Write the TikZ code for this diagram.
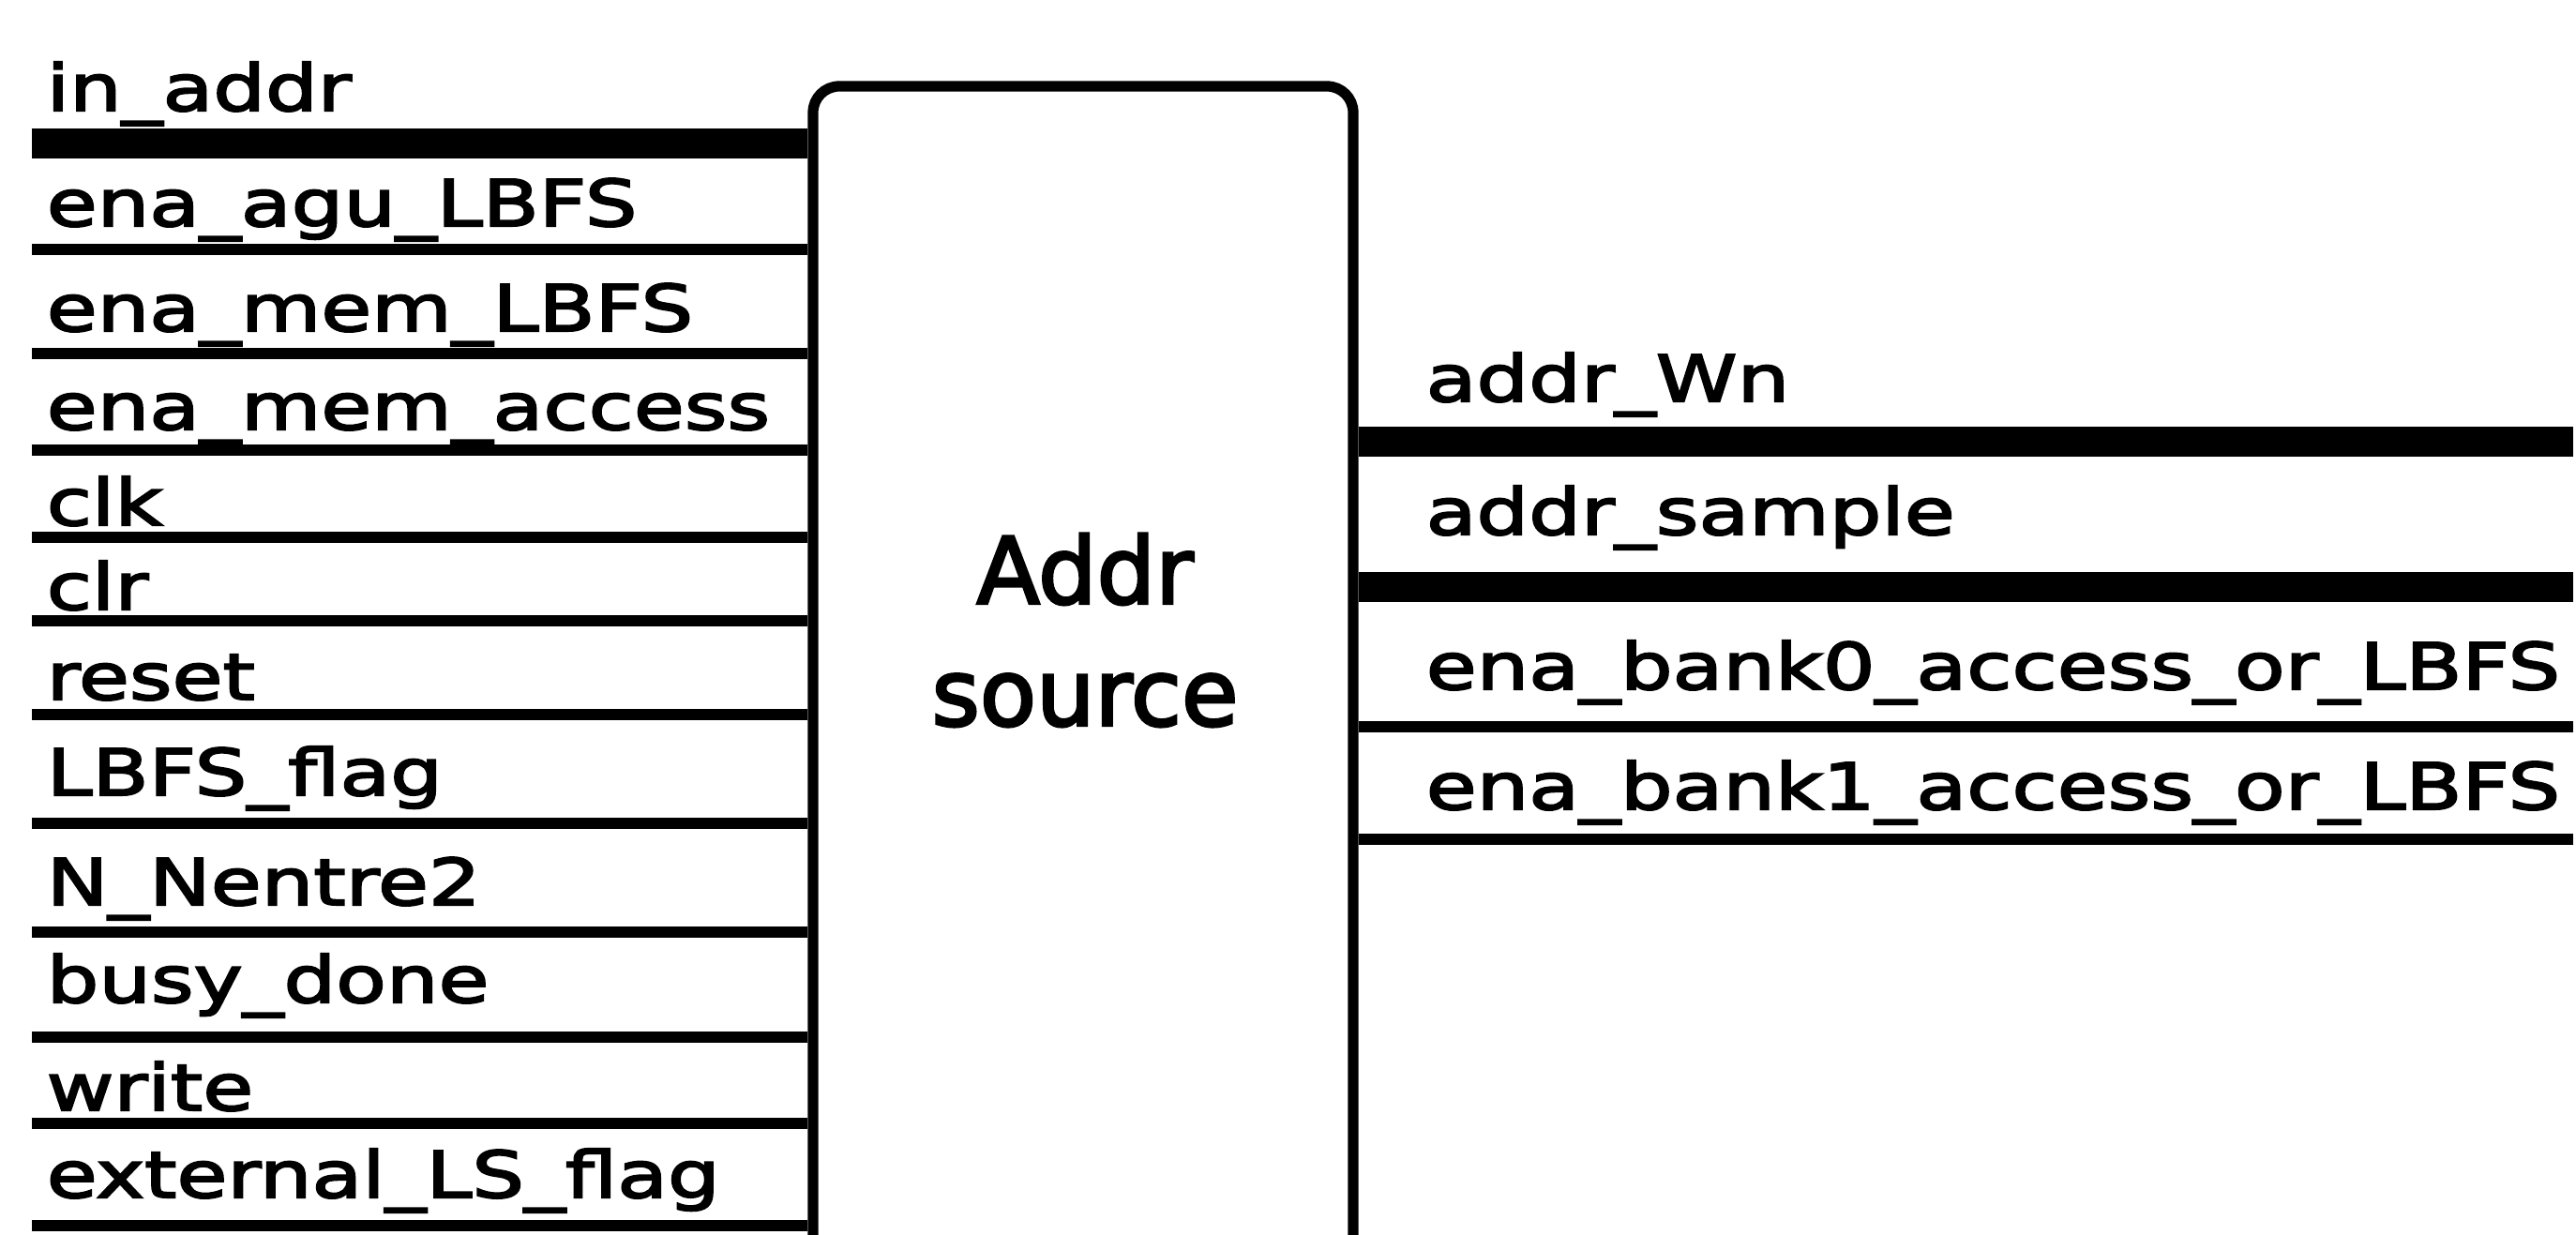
\documentclass[tikz,border=0pt]{standalone}
\usepackage{fontspec}
\usepackage{tikz}
\usetikzlibrary{positioning}
\newfontfamily\sigfont{DejaVu Sans}[FakeStretch=1.28, FakeBold=3]
\newfontfamily\blockfont{DejaVu Sans}[FakeBold=3]

\begin{document}
\begin{tikzpicture}[
    sig/.style={anchor=base west, inner sep=0pt, font=\sigfont\fontsize{19.5pt}{23pt}\selectfont},
    wire/.style={line width=3.6pt},
    bus/.style={line width=9pt},
    block/.style={rectangle, draw, line width=3.2pt, rounded corners=0.28cm, minimum width=5.76cm, minimum height=13.2cm}
]
\useasboundingbox (0,0) rectangle (27.47,-13.17);
\node[block] (box) at (11.55,-7.52) {};
\node[align=center, font=\blockfont\fontsize{28pt}{37pt}\selectfont] (name) at (11.57,-6.72) {Addr\\source};
% inputs
\node[sig] (l1) at (0.49,-1.18) {in\_addr};
\node[sig] (l2) at (0.49,-2.41) {ena\_agu\_LBFS};
\node[sig] (l3) at (0.49,-3.53) {ena\_mem\_LBFS};
\node[sig] (l4) at (0.49,-4.58) {ena\_mem\_access};
\node[sig] (l5) at (0.49,-5.60) {clk};
\node[sig] (l6) at (0.49,-6.50) {clr};
\node[sig] (l7) at (0.49,-7.46) {reset};
\node[sig] (l8) at (0.49,-8.48) {LBFS\_flag};
\node[sig] (l9) at (0.49,-9.65) {N\_Nentre2};
\node[sig] (l10) at (0.49,-10.69) {busy\_done};
\node[sig] (l11) at (0.49,-11.84) {write};
\node[sig] (l12) at (0.49,-12.77) {external\_LS\_flag};
\coordinate (i1) at (0.34,-1.53);
\coordinate (i2) at (0.34,-2.66);
\coordinate (i3) at (0.34,-3.77);
\coordinate (i4) at (0.34,-4.80);
\coordinate (i5) at (0.34,-5.73);
\coordinate (i6) at (0.34,-6.62);
\coordinate (i7) at (0.34,-7.62);
\coordinate (i8) at (0.34,-8.78);
\coordinate (i9) at (0.34,-9.94);
\coordinate (i10) at (0.34,-11.06);
\coordinate (i11) at (0.34,-11.98);
\coordinate (i12) at (0.34,-13.07);
\draw[bus] (i1) -- (i1 -| box.west);
\draw[wire] (i2) -- (i2 -| box.west);
\draw[wire] (i3) -- (i3 -| box.west);
\draw[wire] (i4) -- (i4 -| box.west);
\draw[wire] (i5) -- (i5 -| box.west);
\draw[wire] (i6) -- (i6 -| box.west);
\draw[wire] (i7) -- (i7 -| box.west);
\draw[wire] (i8) -- (i8 -| box.west);
\draw[wire] (i9) -- (i9 -| box.west);
\draw[wire] (i10) -- (i10 -| box.west);
\draw[wire] (i11) -- (i11 -| box.west);
\draw[wire] (i12) -- (i12 -| box.west);
% outputs
\node[sig] (r1) at (15.20,-4.28) {addr\_Wn};
\node[sig] (r2) at (15.20,-5.70) {addr\_sample};
\node[sig] (r3) at (15.20,-7.35) {ena\_bank0\_access\_or\_LBFS};
\node[sig] (r4) at (15.20,-8.63) {ena\_bank1\_access\_or\_LBFS};
\coordinate (o1) at (27.44,-4.71);
\coordinate (o2) at (27.44,-6.26);
\coordinate (o3) at (27.44,-7.75);
\coordinate (o4) at (27.44,-8.95);
\draw[bus] (o1 -| box.east) -- (o1);
\draw[bus] (o2 -| box.east) -- (o2);
\draw[wire] (o3 -| box.east) -- (o3);
\draw[wire] (o4 -| box.east) -- (o4);
\end{tikzpicture}
\end{document}
